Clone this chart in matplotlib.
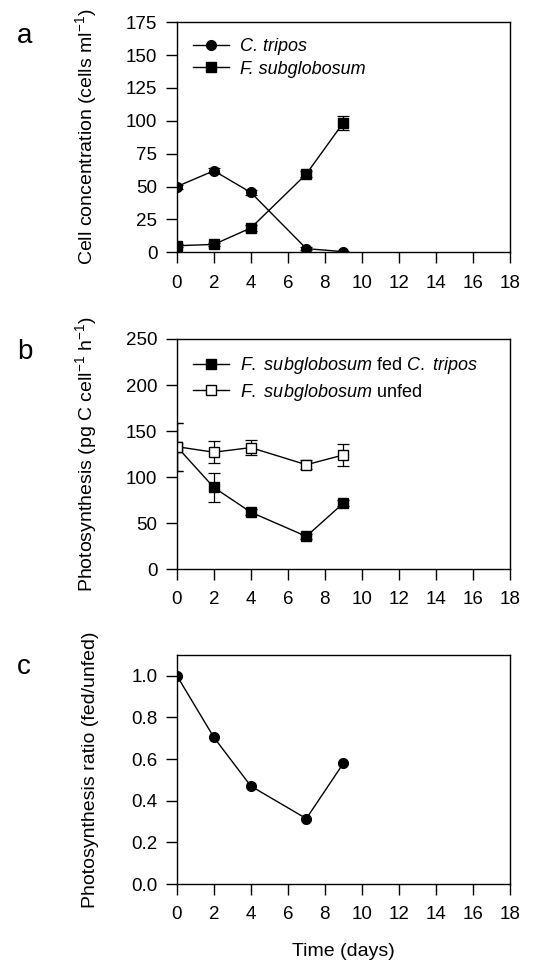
import matplotlib
matplotlib.use("Agg")
import matplotlib.pyplot as plt

# fonts: Arial-like look
plt.rcParams["font.family"] = ["Liberation Sans", "DejaVu Sans"]
plt.rcParams["mathtext.fontset"] = "custom"
plt.rcParams["mathtext.rm"] = "Liberation Sans"
plt.rcParams["mathtext.it"] = "Liberation Sans:italic"

# data
days = [0, 2, 4, 7, 9]

# panel a - cell concentrations
tripos = [50, 62, 45.5, 2.8, 0.5]
tripos_err = [1.5, 2, 2, 1, 0.5]
subglob = [5, 6, 18.5, 59.5, 98.5]
subglob_err = [1, 1, 2.5, 2.5, 5.5]

# panel b - photosynthesis
fed = [133, 88.7, 61.8, 35.6, 71.6]
fed_err = [26, 16, 3, 3, 3]
unfed = [133, 127, 132, 113.4, 124]
unfed_err = [26, 12, 8.5, 5, 11.6]

# panel c - ratio fed/unfed
ratio = [1.0, 0.704, 0.47, 0.314, 0.579]

xticks = list(range(0, 19, 2))

fig = plt.figure(figsize=(5.36, 9.63), dpi=100)
ax_a = fig.add_axes([0.330, 0.738, 0.621, 0.239])
ax_b = fig.add_axes([0.330, 0.409, 0.621, 0.239])
ax_c = fig.add_axes([0.330, 0.082, 0.621, 0.238])

fs = 13.5
eb = dict(color="black", lw=1.0, elinewidth=0.9, capsize=4, capthick=0.9, markersize=7)
legkw = dict(loc="upper left", frameon=False, handlelength=2.0, handletextpad=0.6,
             borderaxespad=0.5, labelspacing=0.3)

c1 = ax_a.errorbar(days, tripos, yerr=tripos_err, marker="o", mfc="black", mec="black", **eb)
c2 = ax_a.errorbar(days, subglob, yerr=subglob_err, marker="s", mfc="black", mec="black", **eb)
ax_a.set_ylim(0, 175)
ax_a.set_yticks(range(0, 176, 25))
ax_a.set_ylabel("Cell concentration (cells ml$^{-1}$)", fontsize=fs + 0.5)
ax_a.legend([c1[0], c2[0]], ["C. tripos", "F. subglobosum"],
            prop={"style": "italic", "size": fs - 0.5}, **legkw)

c3 = ax_b.errorbar(days, fed, yerr=fed_err, marker="s", mfc="black", mec="black", **eb)
c4 = ax_b.errorbar(days, unfed, yerr=unfed_err, marker="s", mfc="white", mec="black", **eb)
ax_b.set_ylim(0, 250)
ax_b.set_yticks(range(0, 251, 50))
ax_b.set_ylabel("Photosynthesis (pg C cell$^{-1}$ h$^{-1}$)", fontsize=fs + 0.5)
ax_b.legend([c3[0], c4[0]],
            [r"$\mathit{F.\ subglobosum}$ fed $\mathit{C.\ tripos}$",
             r"$\mathit{F.\ subglobosum}$ unfed"],
            fontsize=fs - 0.5, **legkw)

ax_c.plot(days, ratio, color="black", lw=1.0, marker="o", markersize=7)
ax_c.set_ylim(0, 1.1)
ax_c.set_yticks([0, 0.2, 0.4, 0.6, 0.8, 1.0])
ax_c.set_yticklabels(["0.0", "0.2", "0.4", "0.6", "0.8", "1.0"])
ax_c.set_ylabel("Photosynthesis ratio (fed/unfed)", fontsize=fs + 0.5)
ax_c.set_xlabel("Time (days)", fontsize=fs + 0.5, labelpad=14)

for ax in (ax_a, ax_b, ax_c):
    ax.set_xlim(0, 18)
    ax.set_xticks(xticks)
    ax.tick_params(axis="x", direction="out", length=8, width=1.0, pad=8, labelsize=fs)
    ax.tick_params(axis="y", direction="out", length=8, width=1.0, pad=6, labelsize=fs)
    for s in ax.spines.values():
        s.set_linewidth(1.0)
    ax.yaxis.set_label_coords(-0.235, 0.5)

fig.text(0.032, 0.955, "a", fontsize=20)
fig.text(0.032, 0.627, "b", fontsize=20)
fig.text(0.032, 0.300, "c", fontsize=20)

fig.savefig("out.png", dpi=100)
